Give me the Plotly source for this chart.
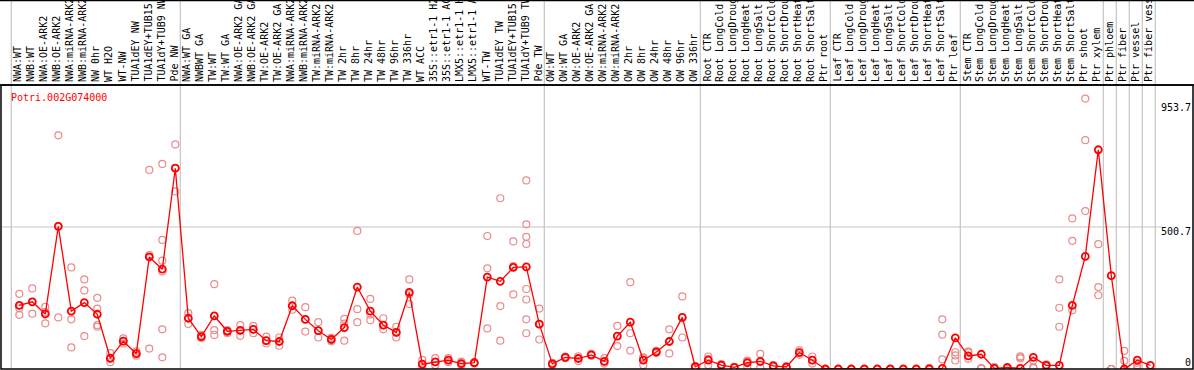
import plotly.graph_objects as go

categories = [
    "NWA:WT", "NWB:WT", "NWA:OE-ARK2", "NWB:OE-ARK2", "NWA:miRNA-ARK2", "NWB:miRNA-ARK2",
    "NW 0hr", "WT H2O", "WT-NW", "TUA1dEY NW", "TUA1dEY+TUB15 NW", "TUA1dY+TUB9 NW", "Pde NW",
    "NWA:WT GA", "NWBWT GA", "TW:WT", "TW:WT GA", "NWA:OE-ARK2 GA", "NWB:OE-ARK2 GA",
    "TW:OE-ARK2", "TW:OE-ARK2 GA", "NWA:miRNA-ARK2 GA", "NWB:miRNA-ARK2 GA", "TW:miRNA-ARK2",
    "TW:miRNA-ARK2 GA", "TW 2hr", "TW 8hr", "TW 24hr", "TW 48hr", "TW 96hr", "TW 336hr", "WT ACC",
    "35S::etr1-1 H2O", "35S::etr1-1 ACC", "LMX5::etr1-1 H2O", "LMX5::etr1-1 ACC", "WT-TW",
    "TUA1dEY TW", "TUA1dEY+TUB15 TW", "TUA1dY+TUB9 TW", "Pde TW",
    "OW:WT", "OW:WT GA", "OW:OE-ARK2", "OW:OE-ARK2 GA", "OW:miRNA-ARK2", "OW:miRNA-ARK2 GA",
    "OW 2hr", "OW 8hr", "OW 24hr", "OW 48hr", "OW 96hr", "OW 336hr",
    "Root CTR", "Root LongCold", "Root LongDrought", "Root LongHeat", "Root LongSalt",
    "Root ShortCold", "Root ShortDrought", "Root ShortHeat", "Root ShortSalt", "Ptr root",
    "Leaf CTR", "Leaf LongCold", "Leaf LongDrought", "Leaf LongHeat", "Leaf LongSalt",
    "Leaf ShortCold", "Leaf ShortDrought", "Leaf ShortHeat", "Leaf ShortSalt", "Ptr leaf",
    "Stem CTR", "Stem LongCold", "Stem LongDrought", "Stem LongHeat", "Stem LongSalt",
    "Stem ShortCold", "Stem ShortDrought", "Stem ShortHeat", "Stem ShortSalt", "Ptr shoot",
    "Ptr xylem", "Ptr phloem", "Ptr fiber", "Ptr vessel", "Ptr fiber vessel",
]

mean_values = [
    224, 237, 194, 503, 204, 234, 193, 38, 98, 54, 395, 352, 708,
    179, 114, 187, 133, 136, 140, 100, 97, 223, 175, 135, 104, 146, 289, 204, 155, 129, 270,
    17, 25, 31, 19, 22, 324, 309, 358, 360, 158,
    18, 41, 37, 50, 27, 116, 165, 31, 60, 97, 182, 8,
    31, 14, 6, 22, 27, 11, 7, 58, 31, 0,
    0, 0, 0, 0, 0, 0, 0, 0, 2, 110,
    46, 52, 2, 6, 2, 41, 13, 13, 224, 397,
    773, 329, 0, 31, 13,
]

replicates = [
    [265, 214, 191], [284, 237, 195], [219, 201, 161], [824, 504, 182], [358, 175, 76],
    [316, 277, 116], [251, 213, 155, 149], [56, 35, 24], [108, 98, 90], [62, 54, 47],
    [702, 402, 72], [723, 455, 382, 344, 140, 41], [792, 708, 626],
    [197, 179, 159], [120, 114, 109], [299, 137, 120], [137, 133, 126], [155, 136, 117],
    [152, 140, 126], [114, 100, 90], [111, 97, 82], [241, 223, 209], [218, 175, 132],
    [165, 135, 111], [110, 104, 98], [177, 160, 100], [487, 211, 165], [247, 192, 172],
    [179, 155, 140], [149, 129, 111], [316, 263, 229],
    [32, 17, 2], [38, 24, 14], [38, 31, 24], [26, 19, 14], [24, 22, 19],
    [469, 355, 143], [602, 222, 100], [450, 363, 263],
    [665, 510, 466, 441, 282, 245, 175, 126], [213, 158, 104],
    [22, 18, 14], [44, 41, 38], [45, 37, 28], [53, 50, 47], [38, 27, 19], [152, 116, 81],
    [306, 126, 65], [41, 38, 14], [64, 60, 56], [140, 97, 55], [256, 182, 111], [10, 8, 6],
    [44, 36, 14], [17, 14, 11], [8, 6, 4], [28, 30, 8], [53, 24, 5], [14, 11, 8], [9, 7, 5],
    [66, 58, 50], [44, 31, 19],
    [0, 0, 0], [0, 0, 0], [0, 0, 0], [0, 0, 0], [0, 0, 0], [0, 0, 0], [0, 0, 0], [0, 0, 0],
    [3, 2, 1], [175, 121, 34],
    [59, 48, 30], [58, 62, 36], [2, 2, 2], [6, 6, 6], [2, 2, 2], [45, 41, 37], [30, 6, 3],
    [16, 13, 10], [316, 216, 149], [531, 452, 207],
    [953.7, 807, 557], [440, 289, 260], [0, 0, 0], [64, 29, 0], [22, 13, 4],
]

gene_title = "Potri.002G074000"
y_tick_labels = ["953.7", "500.7", "0"]
group_starts = [0, 13, 41, 53, 63, 73, 84, 85, 86, 87, 88]

W, H = 1194, 370
ML, MR, MT, MB = 1, 1, 85, 1
PLOT_H = H - MT - MB
Y_MAX = 1001.4
FONT = "DejaVu Sans Mono"

x_idx = list(range(len(categories)))
rep_x, rep_y = [], []
for i, reps in enumerate(replicates):
    for v in reps:
        rep_x.append(i)
        rep_y.append(v)

fig = go.Figure()
fig.add_trace(go.Scatter(
    x=rep_x, y=rep_y, mode="markers",
    marker=dict(symbol="circle-open", size=7, color="#e98c8c", line=dict(width=1.2, color="#e98c8c")),
    hoverinfo="skip", showlegend=False,
))
fig.add_trace(go.Scatter(
    x=x_idx, y=mean_values, mode="lines+markers",
    line=dict(color="#ff0000", width=1.3),
    marker=dict(symbol="circle-open", size=7, color="#ff0000", line=dict(width=1.8, color="#ff0000")),
    showlegend=False,
))

x0_px, step = 19.3, 13.0
plot_w = W - ML - MR
x_left = (ML - x0_px) / step
x_right = (ML + plot_w - x0_px) / step

def py_to_paper(py):
    return (H - MB - py) / PLOT_H

shapes = []
for g in group_starts:
    shapes.append(dict(type="line", xref="x", yref="paper", x0=g - 8 / step, x1=g - 8 / step,
                       y0=0, y1=py_to_paper(0), line=dict(color="#c4c4c4", width=1.2), layer="below"))
shapes.append(dict(type="line", xref="paper", yref="y", x0=0, x1=(1162 - ML) / plot_w,
                   y0=500.7, y1=500.7, line=dict(color="#c4c4c4", width=1.2), layer="below"))
shapes.append(dict(type="rect", xref="paper", yref="paper", x0=0, x1=1, y0=0, y1=1,
                   line=dict(color="black", width=1.5)))
for py in (0.5, 85):
    shapes.append(dict(type="line", xref="paper", yref="paper", x0=-ML / plot_w, x1=1 + MR / plot_w,
                       y0=py_to_paper(py), y1=py_to_paper(py), line=dict(color="black", width=1.5)))

annotations = []
for i, lab in enumerate(categories):
    annotations.append(dict(x=i - 0.1, xref="x", y=py_to_paper(84), yref="paper",
                            text=lab, textangle=-90, showarrow=False,
                            xanchor="center", yanchor="bottom",
                            font=dict(family=FONT, size=10, color="black")))
annotations.append(dict(x=(9 - ML) / plot_w, xref="paper", y=py_to_paper(97), yref="paper",
                        text=gene_title, showarrow=False, xanchor="left", yanchor="middle",
                        font=dict(family=FONT, size=10, color="#ff0000")))
for lab, pyc in zip(y_tick_labels, [107.5, 231.5, 362]):
    annotations.append(dict(x=(1193 - ML) / plot_w, xref="paper", y=py_to_paper(pyc), yref="paper",
                            text=lab, showarrow=False, xanchor="right", yanchor="middle",
                            font=dict(family=FONT, size=10, color="black")))

fig.update_layout(
    width=W, height=H,
    margin=dict(l=ML, r=MR, t=MT, b=MB),
    paper_bgcolor="white", plot_bgcolor="white",
    xaxis=dict(range=[x_left, x_right], showgrid=False, zeroline=False, showticklabels=False,
               ticks="", showline=False, fixedrange=True),
    yaxis=dict(range=[0, Y_MAX], showgrid=False, zeroline=False, showticklabels=False,
               ticks="", showline=False, fixedrange=True),
    shapes=shapes, annotations=annotations,
    showlegend=False,
)

fig.write_html(
    "out.html",
    config={"displayModeBar": False},
    post_script="document.body.style.margin='0';document.body.style.padding='0';document.body.style.overflow='hidden';",
)
